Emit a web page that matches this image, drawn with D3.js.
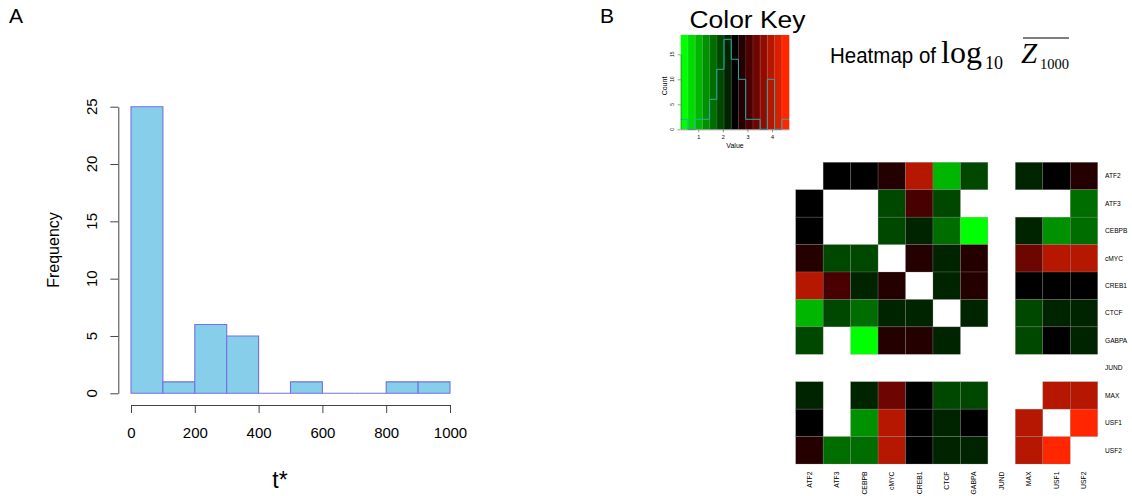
<!DOCTYPE html>
<html>
<head>
<meta charset="utf-8">
<script src="https://cdn.jsdelivr.net/npm/d3@7"></script>
<style>
  body { margin: 0; background: #fff; }
  svg { display: block; }
  text { font-family: "Liberation Sans", Arial, Helvetica, sans-serif; fill: #000; }
  .serif { font-family: "Liberation Serif", "DejaVu Serif", "Times New Roman", serif; }
</style>
</head>
<body>
<svg id="chart" width="1132" height="496"></svg>
<script>
// ---------- Panel A data: histogram of t* ----------
const binEdges = [0, 100, 200, 300, 400, 500, 600, 700, 800, 900, 1000];
const binCounts = [25, 1, 6, 5, 0, 1, 0, 0, 1, 1];
const xTicksA = [0, 200, 400, 600, 800, 1000];
const yTicksA = [0, 5, 10, 15, 20, 25];

// ---------- Panel B data: heatmap of log10 mean Z ----------
const factors = ["ATF2", "ATF3", "CEBPB", "cMYC", "CREB1", "CTCF", "GABPA", "JUND", "MAX", "USF1", "USF2"];
const rowATF2  = [null, 2.49, 2.49, 2.78, 3.96, 1.02, 1.90, null, 2.19, 2.49, 2.78];
const rowATF3  = [2.49, null, null, 1.90, 3.07, 1.90, null, null, null, null, 1.61];
const rowCEBPB = [2.49, null, null, 1.90, 2.19, 1.61, 0.43, null, 2.19, 1.31, 1.61];
const rowCMYC  = [2.78, 1.90, 1.90, null, 2.78, 2.19, 2.78, null, 3.37, 3.96, 3.96];
const rowCREB1 = [3.96, 3.07, 2.19, 2.78, null, 2.19, 2.78, null, 2.49, 2.49, 2.49];
const rowCTCF  = [1.02, 1.90, 1.61, 2.19, 2.19, null, 2.19, null, 1.90, 2.19, 2.19];
const rowGABPA = [1.90, null, 0.43, 2.78, 2.78, 2.19, null, null, 1.90, 2.49, 2.19];
const rowJUND  = [null, null, null, null, null, null, null, null, null, null, null];
const rowMAX   = [2.19, null, 2.19, 3.37, 2.49, 1.90, 1.90, null, null, 3.96, 3.96];
const rowUSF1  = [2.49, null, 1.31, 3.96, 2.49, 2.19, 2.49, null, 3.96, null, 4.55];
const rowUSF2  = [2.78, 1.61, 1.61, 3.96, 2.49, 2.19, 2.19, null, 3.96, 4.55, null];
const heatRows = [rowATF2, rowATF3, rowCEBPB, rowCMYC, rowCREB1, rowCTCF, rowGABPA, rowJUND, rowMAX, rowUSF1, rowUSF2];

const keyRange = [0.285, 4.69];
const keyColors = ["#00FF00","#00DA00","#00B600","#009100","#006D00","#004800","#002400","#000000",
                   "#240000","#480000","#6D0500","#910C00","#B61700","#DA1F00","#FF2600"];
const keyValueTicks = [1, 2, 3, 4];
const keyCountTicks = [0, 5, 10, 15];

const svg = d3.select("#chart");

// ================= Panel A =================
const xA = d3.scaleLinear().domain([0, 1000]).range([131, 450]);
const yA = d3.scaleLinear().domain([0, 25]).range([393.3, 106.7]);

svg.append("text").attr("x", 9).attr("y", 22.7).attr("font-size", 21).text("A");

const bars = binCounts.map((c, i) => ({ x0: binEdges[i], x1: binEdges[i + 1], c }));
svg.append("g").selectAll("path").data(bars).join("path")
  .attr("d", d => {
    const l = xA(d.x0), r = xA(d.x1), b = yA(0), t = yA(d.c);
    return d.c > 0 ? `M${l},${b}V${t}H${r}V${b}Z` : `M${l},${b}H${r}`;
  })
  .attr("fill", d => d.c > 0 ? "#87CEEB" : "none")
  .attr("stroke", "#7570E0")
  .attr("stroke-width", 1.1);

const xAxisA = svg.append("g").attr("transform", "translate(0,405)")
  .call(d3.axisBottom(xA).tickValues(xTicksA).tickSize(8).tickSizeOuter(0).tickFormat(d3.format("d")));
xAxisA.select(".domain").attr("stroke", "#444");
xAxisA.selectAll(".tick line").attr("stroke", "#444");
xAxisA.selectAll(".tick text").attr("y", 22).attr("dy", "0.71em")
  .attr("font-size", 15).attr("font-family", "Liberation Sans, Arial, sans-serif").attr("fill", "#222");

const yAxisA = svg.append("g").attr("transform", "translate(118.3,0)")
  .call(d3.axisLeft(yA).tickValues(yTicksA).tickSize(8).tickSizeOuter(0));
yAxisA.select(".domain").attr("stroke", "#444");
yAxisA.selectAll(".tick line").attr("stroke", "#444");
yAxisA.selectAll(".tick text").remove();
svg.append("g").selectAll("text").data(yTicksA).join("text")
  .attr("transform", d => `translate(96.5,${yA(d)}) rotate(-90)`)
  .attr("text-anchor", "middle").attr("font-size", 15).attr("fill", "#222")
  .text(d => d);

svg.append("text").attr("transform", "translate(58.5,250) rotate(-90)")
  .attr("text-anchor", "middle").attr("font-size", 16).attr("fill", "#222").text("Frequency");
svg.append("text").attr("x", 280).attr("y", 488).attr("text-anchor", "middle")
  .attr("font-size", 23).attr("fill", "#222").text("t*");

// ================= Panel B =================
svg.append("text").attr("x", 600).attr("y", 22.7).attr("font-size", 21).text("B");

const colorQ = d3.scaleQuantize().domain(keyRange).range(keyColors);

// ---- Color key ----
const xK = d3.scaleLinear().domain(keyRange).range([680.7, 789]);
const yK = d3.scaleLinear().domain([0, 15]).range([129.3, 54.3]);
const bandW = (keyRange[1] - keyRange[0]) / keyColors.length;
const bands = keyColors.map((c, i) => ({ c, v0: keyRange[0] + i * bandW, v1: keyRange[0] + (i + 1) * bandW }));
svg.append("g").selectAll("rect").data(bands).join("rect")
  .attr("x", d => xK(d.v0)).attr("width", d => xK(d.v1) - xK(d.v0) + 0.3)
  .attr("y", 35).attr("height", yK(0) - 35)
  .attr("fill", d => d.c);
svg.append("g").selectAll("line").data(bands.slice(1)).join("line")
  .attr("x1", d => xK(d.v0)).attr("x2", d => xK(d.v0))
  .attr("y1", 35).attr("y2", yK(0))
  .attr("stroke", "rgba(255,255,255,0.18)").attr("stroke-width", 0.8);

// density histogram over the key (counts of heatmap values per band)
const counts = keyColors.map(() => 0);
heatRows.forEach(r => r.forEach(v => { if (v !== null) counts[keyColors.indexOf(colorQ(v))]++; }));
let stepD = "";
bands.forEach((b, i) => {
  const y = yK(counts[i]);
  stepD += (i === 0 ? `M${xK(b.v0)},${y}` : `V${y}`) + `H${xK(b.v1)}`;
});
svg.append("path").attr("d", stepD).attr("fill", "none")
  .attr("stroke", "#2fa8a8").attr("stroke-width", 1);

// key axes
const kx = svg.append("g").attr("transform", `translate(0,${yK(0)})`)
  .call(d3.axisBottom(xK).tickValues(keyValueTicks).tickSize(3).tickSizeOuter(0).tickFormat(d3.format("d")));
kx.select(".domain").attr("stroke", "#555").attr("stroke-width", 0.6);
kx.selectAll(".tick line").attr("stroke", "#555").attr("stroke-width", 0.6);
kx.selectAll(".tick text").attr("y", 6).attr("font-size", 5.5).attr("fill", "#333")
  .attr("font-family", "Liberation Sans, Arial, sans-serif");
svg.append("text").attr("x", 735).attr("y", 148).attr("text-anchor", "middle")
  .attr("font-size", 7).attr("fill", "#333").text("Value");

const ky = svg.append("g").attr("transform", "translate(680.7,0)")
  .call(d3.axisLeft(yK).tickValues(keyCountTicks).tickSize(3).tickSizeOuter(0));
ky.select(".domain").attr("stroke", "#555").attr("stroke-width", 0.6);
ky.selectAll(".tick line").attr("stroke", "#555").attr("stroke-width", 0.6);
ky.selectAll(".tick text").remove();
svg.append("g").selectAll("text").data(keyCountTicks).join("text")
  .attr("transform", d => `translate(674,${yK(d)}) rotate(-90)`)
  .attr("text-anchor", "middle").attr("font-size", 5).attr("fill", "#333").text(d => d);
svg.append("text").attr("transform", "translate(667,86) rotate(-90)")
  .attr("text-anchor", "middle").attr("font-size", 7).attr("fill", "#333").text("Count");

svg.append("text").attr("x", 689.5).attr("y", 27.5).attr("font-size", 23)
  .attr("textLength", 116).attr("lengthAdjust", "spacingAndGlyphs").text("Color Key");

// ---- Title ----
svg.append("text").attr("x", 830).attr("y", 63.3).attr("font-size", 22)
  .attr("textLength", 106).attr("lengthAdjust", "spacingAndGlyphs").text("Heatmap of");
svg.append("text").attr("class", "serif").attr("x", 941).attr("y", 63.3).attr("font-size", 32).text("log");
svg.append("text").attr("class", "serif").attr("x", 985).attr("y", 68.5).attr("font-size", 18).text("10");
svg.append("text").attr("class", "serif").attr("x", 1021).attr("y", 63.3).attr("font-size", 29)
  .attr("font-style", "italic").text("Z");
svg.append("text").attr("class", "serif").attr("x", 1040).attr("y", 68.5).attr("font-size", 14.5).text("1000");
svg.append("line").attr("x1", 1023).attr("x2", 1069).attr("y1", 38).attr("y2", 38)
  .attr("stroke", "#000").attr("stroke-width", 1.1);

// ---- Heatmap cells ----
const xH = d3.scaleBand().domain(factors).range([795.7, 1097.7]);
const yH = d3.scaleBand().domain(factors).range([162.3, 464]);
const cells = [];
heatRows.forEach((r, i) => r.forEach((v, j) => { if (v !== null) cells.push({ row: factors[i], col: factors[j], v }); }));
svg.append("g").selectAll("rect").data(cells).join("rect")
  .attr("x", d => xH(d.col)).attr("y", d => yH(d.row))
  .attr("width", xH.bandwidth()).attr("height", yH.bandwidth())
  .attr("fill", d => colorQ(d.v))
  .attr("stroke", "rgba(140,140,140,0.55)").attr("stroke-width", 0.5);

// row labels
svg.append("g").selectAll("text").data(factors).join("text")
  .attr("x", 1105).attr("y", d => yH(d) + yH.bandwidth() / 2).attr("dy", "0.35em")
  .attr("font-size", 6.6).attr("fill", "#333").text(d => d);
// column labels
svg.append("g").selectAll("text").data(factors).join("text")
  .attr("transform", d => `translate(${xH(d) + xH.bandwidth() / 2 + 2.3},471.5) rotate(-90)`)
  .attr("text-anchor", "end").attr("font-size", 6.8).attr("fill", "#333").text(d => d);
</script>
</body>
</html>
